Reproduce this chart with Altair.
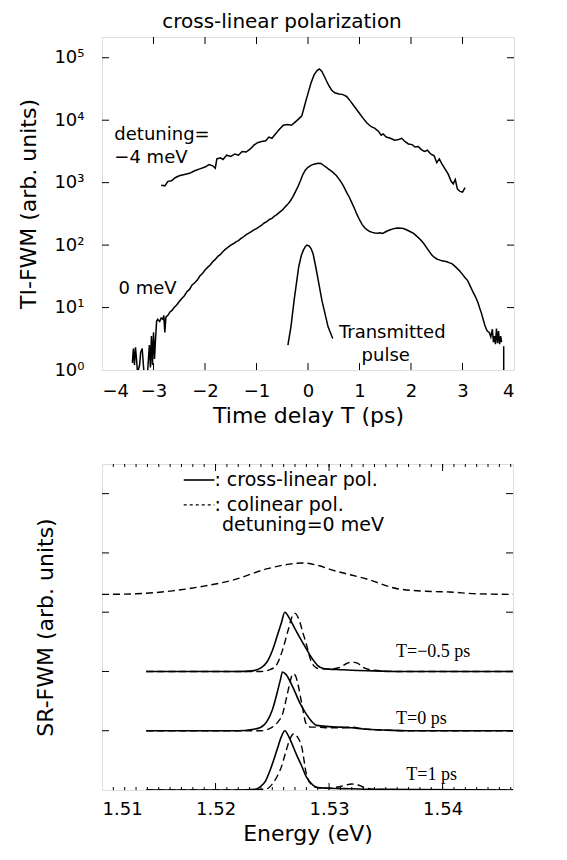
import altair as alt
import pandas as pd

# ---------------- Top panel data (TI-FWM vs time delay) ----------------
det4_T = [-2.85, -2.78, -2.72, -2.65, -2.58, -2.50, -2.40, -2.30, -2.20, -2.10, -2.00, -1.92, -1.85, -1.80,
          -1.77, -1.70, -1.65, -1.58, -1.50, -1.42, -1.35, -1.28, -1.20, -1.12, -1.05, -0.98, -0.90, -0.82,
          -0.76, -0.70, -0.62, -0.55, -0.48, -0.40, -0.32, -0.25, -0.18, -0.12, -0.06, 0.00, 0.06, 0.12,
          0.18, 0.22, 0.27, 0.33, 0.40, 0.46, 0.52, 0.60, 0.68, 0.75, 0.82, 0.90, 0.98, 1.06, 1.14, 1.22,
          1.30, 1.37, 1.42, 1.46, 1.52, 1.60, 1.68, 1.76, 1.82, 1.88, 1.95, 2.02, 2.08, 2.14, 2.20, 2.26,
          2.32, 2.38, 2.45, 2.50, 2.55, 2.60, 2.66, 2.72, 2.78, 2.82, 2.86, 2.90, 2.95, 3.00, 3.05]
det4_v = [910, 890, 1050, 1070, 1200, 1290, 1350, 1410, 1550, 1660, 1780, 1950, 1860, 1700,
          2400, 2500, 2350, 2750, 2630, 2880, 2750, 3160, 3090, 3470, 3980, 4370, 4570, 4680,
          5370, 5130, 6170, 7240, 8320, 8510, 8320, 9330, 10500, 11750, 17800, 26900, 39800, 53700,
          63100, 66000, 60300, 47900, 36300, 30200, 27500, 26300, 25700, 24000, 20400, 16600, 13500, 11000, 9120, 7940,
          7410, 6610, 5750, 6030, 5370, 5130, 4790, 4900, 5130, 4570, 4170, 4070, 3720, 3800, 3390, 3160,
          3310, 2880, 2690, 2090, 2400, 2000, 1660, 1380, 1050, 955, 1120, 794, 724, 708, 832]

det0_T = [-3.41, -3.39, -3.37, -3.35, -3.33, -3.31, -3.27, -3.25, -3.22, -3.18, -3.12, -3.08, -3.06, -3.04,
          -3.02, -3.00, -2.98, -2.96, -2.94, -2.92, -2.88, -2.85, -2.82, -2.80, -2.78, -2.76, -2.72, -2.68,
          -2.64, -2.60, -2.55, -2.50, -2.45, -2.40, -2.35, -2.30, -2.25, -2.20, -2.15, -2.10, -2.05, -2.00,
          -1.95, -1.90, -1.85, -1.80, -1.75, -1.70, -1.65, -1.60, -1.55, -1.50, -1.45, -1.40, -1.35, -1.30,
          -1.25, -1.20, -1.15, -1.10, -1.05, -1.00, -0.95, -0.90, -0.85, -0.80, -0.75, -0.70, -0.65, -0.60,
          -0.55, -0.50, -0.45, -0.40, -0.35, -0.30, -0.25, -0.20, -0.15, -0.10, -0.05, 0.00, 0.05, 0.10,
          0.15, 0.20, 0.25, 0.30, 0.35, 0.40, 0.45, 0.50, 0.55, 0.60, 0.65, 0.70, 0.75, 0.80, 0.85, 0.90,
          0.95, 1.00, 1.05, 1.10, 1.15, 1.20, 1.25, 1.30, 1.35, 1.40, 1.45, 1.50, 1.55, 1.60, 1.65, 1.70,
          1.75, 1.80, 1.85, 1.90, 1.95, 2.00, 2.05, 2.10, 2.15, 2.20, 2.25, 2.30, 2.35, 2.40, 2.45, 2.50,
          2.55, 2.60, 2.65, 2.70, 2.75, 2.80, 2.85, 2.90, 2.95, 3.00, 3.05, 3.10, 3.15, 3.20, 3.25, 3.30,
          3.33, 3.37, 3.40, 3.44, 3.48, 3.52, 3.55, 3.58, 3.60, 3.62, 3.64, 3.66, 3.68, 3.70, 3.72, 3.74, 3.76]
det0_v = [1.3, 2.2, 1.2, 2.3, 1.5, 0.9, 1.2, 1.9, 2.2, 0.8, 0.8, 2.5, 1.1, 3.5,
          1.2, 4.0, 1.5, 3.2, 6.0, 6.5, 6.0, 6.8, 6.5, 7.5, 4.0, 7.0, 7.5, 8.5,
          9.0, 10.0, 11.0, 12.5, 14.0, 15.5, 18.0, 19.5, 23.0, 25.0, 27.5, 32.0, 35.0, 40.0,
          44.0, 48.0, 54.0, 59.0, 66.0, 71.0, 79.0, 86.0, 93.0, 100, 105, 113, 118, 128,
          136, 147, 155, 165, 175, 184, 196, 208, 226, 238, 257, 268, 292, 310,
          338, 362, 402, 445, 500, 580, 700, 850, 1050, 1350, 1600, 1760, 1880, 1960,
          2000, 2040, 2030, 1900, 1780, 1650, 1550, 1420, 1300, 1150, 1000, 850, 700, 590, 480, 390,
          310, 255, 215, 190, 175, 165, 160, 156, 155, 157, 154, 162, 170, 176, 182, 186,
          188, 187, 184, 178, 170, 162, 154, 142, 130, 118, 105, 92, 80, 70, 64, 60,
          58, 56, 55, 54, 52, 50, 46, 42, 38, 34, 30, 27, 22, 18, 15, 12,
          10, 8.0, 6.5, 5.0, 4.2, 4.0, 3.4, 4.5, 2.8, 3.5, 2.6, 4.6, 2.7, 4.2, 2.6, 3.5, 2.8]

pulse_T = [-0.39, -0.33, -0.27, -0.22, -0.18, -0.13, -0.09, -0.05, -0.02, 0.02, 0.06, 0.10, 0.15, 0.20,
           0.27, 0.33, 0.39, 0.48]
pulse_v = [2.5, 5.0, 13, 26, 45, 68, 83, 95, 100, 97, 88, 72, 45, 27, 13, 8.0, 4.9, 3.2]

edge_T = [3.80, 3.80]
edge_v = [0.9, 2.4]

top_x_ticks = [-4, -3, -2, -1, 0, 1, 2, 3, 4]
top_y_ticks = [1, 10, 100, 1000, 10000, 100000]

# ---------------- Bottom panel data (SR-FWM vs energy) ----------------
m05_sol_E = [1.5139, 1.518, 1.522, 1.5232, 1.524, 1.5245, 1.525, 1.5254, 1.5258, 1.5261, 1.5265, 1.527,
             1.5274, 1.528, 1.5285, 1.529, 1.5295, 1.530, 1.531, 1.532, 1.534, 1.536, 1.5462]
m05_sol_u = [2.0, 2.0, 2.0, 2.01, 2.06, 2.15, 2.35, 2.58, 2.82, 3.0, 2.9, 2.72,
             2.58, 2.38, 2.22, 2.1, 2.05, 2.04, 2.03, 2.02, 2.01, 2.0, 2.0]
m05_das_E = [1.5139, 1.522, 1.524, 1.5248, 1.5254, 1.5259, 1.5264, 1.5268, 1.527, 1.5273, 1.5277, 1.528,
             1.5284, 1.5288, 1.529, 1.530, 1.531, 1.5315, 1.532, 1.5325, 1.533, 1.534, 1.536, 1.5462]
m05_das_u = [2.0, 2.0, 2.0, 2.03, 2.12, 2.36, 2.7, 2.95, 2.98, 2.9, 2.65, 2.46,
             2.18, 2.07, 2.05, 2.04, 2.07, 2.13, 2.16, 2.14, 2.07, 2.02, 2.0, 2.0]

t0_sol_E = [1.5139, 1.522, 1.5232, 1.524, 1.5245, 1.525, 1.5254, 1.5257, 1.5259, 1.5262, 1.5268, 1.5274,
            1.528, 1.5285, 1.5289, 1.530, 1.531, 1.532, 1.533, 1.535, 1.537, 1.5462]
t0_sol_u = [1.0, 1.0, 1.02, 1.06, 1.15, 1.35, 1.62, 1.85, 1.99, 1.95, 1.74, 1.48,
            1.28, 1.15, 1.09, 1.07, 1.06, 1.05, 1.03, 1.01, 1.0, 1.0]
t0_das_E = [1.5139, 1.522, 1.524, 1.525, 1.5255, 1.5259, 1.5263, 1.5266, 1.5268, 1.527, 1.5273, 1.5276,
            1.528, 1.5284, 1.529, 1.530, 1.531, 1.532, 1.533, 1.535, 1.537, 1.5462]
t0_das_u = [1.0, 1.0, 1.0, 1.06, 1.15, 1.28, 1.6, 1.85, 1.96, 1.94, 1.75, 1.45,
            1.11, 1.06, 1.06, 1.05, 1.05, 1.06, 1.03, 1.01, 1.0, 1.0]

t1_sol_E = [1.5139, 1.522, 1.5235, 1.5239, 1.5244, 1.5248, 1.5254, 1.5258, 1.5261, 1.5265, 1.5271, 1.5276,
            1.528, 1.5286, 1.529, 1.530, 1.532, 1.534, 1.5462]
t1_sol_u = [0.0, 0.0, 0.01, 0.05, 0.15, 0.33, 0.67, 0.9, 1.0, 0.88, 0.61, 0.4,
            0.22, 0.08, 0.04, 0.03, 0.02, 0.01, 0.0]
t1_das_E = [1.5139, 1.523, 1.5245, 1.525, 1.5254, 1.5258, 1.5262, 1.5266, 1.5269, 1.5272, 1.5276, 1.528,
            1.5284, 1.529, 1.530, 1.531, 1.532, 1.5325, 1.533, 1.534, 1.5462]
t1_das_u = [0.0, 0.0, 0.02, 0.1, 0.22, 0.39, 0.65, 0.88, 0.95, 0.9, 0.72, 0.27,
            0.1, 0.04, 0.03, 0.06, 0.1, 0.09, 0.05, 0.01, 0.0]

broad_E = [1.510, 1.513, 1.5162, 1.519, 1.5215, 1.5245, 1.5265, 1.5277, 1.529, 1.5303, 1.5333, 1.5362,
           1.539, 1.5406, 1.543, 1.5462]
broad_u = [3.30, 3.31, 3.36, 3.44, 3.54, 3.73, 3.81, 3.83, 3.79, 3.71, 3.56, 3.39,
           3.35, 3.34, 3.31, 3.30]

bot_x_labels = [1.51, 1.52, 1.53, 1.54]
bot_x_major = [1.52, 1.53, 1.54]
bot_x_minor = [round(1.511 + 0.001 * i, 3) for i in range(36)]
bot_y_ticks = [1, 2, 3, 4, 5]

FONT = "DejaVu Sans"
W_TOP, H_TOP = 412, 333
W_BOT, H_BOT = 411, 326
AX_TITLE = 22
AX_LABEL = 18

# ---------------- Top panel ----------------
top_df = pd.concat([
    pd.DataFrame({"T": det4_T, "v": det4_v, "s": "det4"}),
    pd.DataFrame({"T": det0_T, "v": det0_v, "s": "det0"}),
    pd.DataFrame({"T": pulse_T, "v": pulse_v, "s": "pulse"}),
    pd.DataFrame({"T": edge_T, "v": edge_v, "s": "edge"}),
])

sup = "'\u2070\u00b9\u00b2\u00b3\u2074\u2075'"
label_expr = f"'10' + substring({sup}, round(log(datum.value)/LN10), round(log(datum.value)/LN10)+1)"

xT = alt.X("T:Q", scale=alt.Scale(domain=[-4, 4], nice=False, zero=False),
           axis=alt.Axis(values=top_x_ticks, title="Time delay T (ps)", ticks=False, domain=False,
                         grid=False, labelFontSize=AX_LABEL, titleFontSize=AX_TITLE, labelPadding=12,
                         titlePadding=5, labelFont=FONT, titleFont=FONT, titleFontWeight="normal",
                         labelColor="black", titleColor="black"))
yT = alt.Y("v:Q", scale=alt.Scale(type="log", domain=[1, 2.15e5], nice=False),
           axis=alt.Axis(values=top_y_ticks, labelExpr=label_expr, title="TI-FWM (arb. units)",
                         ticks=False, domain=False, grid=False, labelFontSize=AX_LABEL, titleFontSize=AX_TITLE,
                         labelPadding=18, titleX=-74, titleBaseline="middle", labelFont=FONT, titleFont=FONT,
                         titleFontWeight="normal", labelColor="black", titleColor="black"))

top_lines = alt.Chart(top_df).mark_line(color="black", strokeWidth=1.5, clip=True).encode(
    x=xT, y=yT, detail="s:N", order="T:Q")

tx_df = pd.DataFrame({"T": top_x_ticks[1:-1]})
ty_df = pd.DataFrame({"v": top_y_ticks[1:]})
tick_b = alt.Chart(tx_df).mark_rule(color="black", strokeWidth=1).encode(
    x=xT, y=alt.value(H_TOP), y2=alt.value(H_TOP - 7))
tick_t = alt.Chart(tx_df).mark_rule(color="black", strokeWidth=1).encode(
    x=xT, y=alt.value(0), y2=alt.value(7))
tick_l = alt.Chart(ty_df).mark_rule(color="black", strokeWidth=1).encode(
    y=yT, x=alt.value(0), x2=alt.value(7))
tick_r = alt.Chart(ty_df).mark_rule(color="black", strokeWidth=1).encode(
    y=yT, x=alt.value(W_TOP), x2=alt.value(W_TOP - 7))

top_txt_df = pd.DataFrame({
    "T": [-3.76, -3.76, -3.68, 0.60, 1.51],
    "v": [5900, 2500, 20, 3.9, 1.67],
    "label": ["detuning=", "\u22124 meV", "0 meV", "Transmitted", "pulse"],
    "a": ["left", "left", "left", "left", "center"],
})
top_txt_l = alt.Chart(top_txt_df[top_txt_df.a == "left"]).mark_text(
    align="left", baseline="middle", fontSize=18, font=FONT, color="black").encode(x=xT, y=yT, text="label:N")
top_txt_c = alt.Chart(top_txt_df[top_txt_df.a == "center"]).mark_text(
    align="center", baseline="middle", fontSize=18, font=FONT, color="black").encode(x=xT, y=yT, text="label:N")

top = alt.layer(top_lines, tick_b, tick_t, tick_l, tick_r, top_txt_l, top_txt_c).properties(
    width=W_TOP, height=H_TOP,
    title=alt.TitleParams("cross-linear polarization", fontSize=20, font=FONT, fontWeight="normal",
                          color="black", offset=5, dx=-26, anchor="middle"))

# ---------------- Bottom panel ----------------
sol_df = pd.concat([
    pd.DataFrame({"E": m05_sol_E, "u": m05_sol_u, "s": "m05"}),
    pd.DataFrame({"E": t0_sol_E, "u": t0_sol_u, "s": "t0"}),
    pd.DataFrame({"E": t1_sol_E, "u": t1_sol_u, "s": "t1"}),
])
das_df = pd.concat([
    pd.DataFrame({"E": m05_das_E, "u": m05_das_u, "s": "m05"}),
    pd.DataFrame({"E": t0_das_E, "u": t0_das_u, "s": "t0"}),
    pd.DataFrame({"E": t1_das_E, "u": t1_das_u, "s": "t1"}),
    pd.DataFrame({"E": broad_E, "u": broad_u, "s": "broad"}),
])

xE = alt.X("E:Q", scale=alt.Scale(domain=[1.51, 1.5462], nice=False, zero=False),
           axis=alt.Axis(values=bot_x_labels, format=".2f", title="Energy (eV)", ticks=False,
                         domain=False, grid=False, labelFontSize=AX_LABEL, titleFontSize=AX_TITLE,
                         labelPadding=10, titlePadding=5, labelFont=FONT, titleFont=FONT,
                         titleFontWeight="normal", labelColor="black", titleColor="black"))
yE = alt.Y("u:Q", scale=alt.Scale(domain=[0, 5.5], nice=False, zero=False),
           axis=alt.Axis(values=bot_y_ticks, labels=False, title="SR-FWM (arb. units)", ticks=False,
                         domain=False, grid=False, titleFontSize=AX_TITLE, titleX=-57, titleBaseline="middle",
                         titleFont=FONT, titleFontWeight="normal", titleColor="black"))

sol = alt.Chart(sol_df).mark_line(color="black", strokeWidth=1.6, interpolate="monotone", clip=True).encode(
    x=xE, y=yE, detail="s:N", order="E:Q")
das = alt.Chart(das_df).mark_line(color="black", strokeWidth=1.4, strokeDash=[7, 4],
                                  interpolate="monotone", clip=True).encode(
    x=xE, y=yE, detail="s:N", order="E:Q")

bmaj = pd.DataFrame({"E": bot_x_major})
bmin = pd.DataFrame({"E": bot_x_minor})
by = pd.DataFrame({"u": bot_y_ticks})
btk = [
    alt.Chart(bmaj).mark_rule(color="black", strokeWidth=1).encode(x=xE, y=alt.value(H_BOT), y2=alt.value(H_BOT - 7)),
    alt.Chart(bmaj).mark_rule(color="black", strokeWidth=1).encode(x=xE, y=alt.value(0), y2=alt.value(7)),
    alt.Chart(bmin).mark_rule(color="black", strokeWidth=1).encode(x=xE, y=alt.value(H_BOT), y2=alt.value(H_BOT - 3)),
    alt.Chart(bmin).mark_rule(color="black", strokeWidth=1).encode(x=xE, y=alt.value(0), y2=alt.value(3)),
    alt.Chart(by).mark_rule(color="black", strokeWidth=1).encode(y=yE, x=alt.value(0), x2=alt.value(7)),
    alt.Chart(by).mark_rule(color="black", strokeWidth=1).encode(y=yE, x=alt.value(W_BOT), x2=alt.value(W_BOT - 7)),
]

leg_sol = alt.Chart(pd.DataFrame({"E": [1.5172], "E2": [1.5199], "u": [5.23]})).mark_rule(
    color="black", strokeWidth=1.6).encode(x=xE, x2="E2:Q", y=yE)
leg_das = alt.Chart(pd.DataFrame({"E": [1.5172], "E2": [1.5199], "u": [4.81]})).mark_rule(
    color="black", strokeWidth=1.2, strokeDash=[3, 3]).encode(x=xE, x2="E2:Q", y=yE)

leg_txt = alt.Chart(pd.DataFrame({
    "E": [1.5199, 1.5199], "u": [5.23, 4.81],
    "label": [": cross-linear pol.", ": colinear pol."]})).mark_text(
    align="left", baseline="middle", fontSize=19, font=FONT, color="black").encode(x=xE, y=yE, text="label:N")
det_txt = alt.Chart(pd.DataFrame({"E": [1.5277], "u": [4.47], "label": ["detuning=0 meV"]})).mark_text(
    align="center", baseline="middle", fontSize=19, font=FONT, color="black").encode(x=xE, y=yE, text="label:N")
t_txt = alt.Chart(pd.DataFrame({
    "E": [1.5359, 1.5359, 1.5368], "u": [2.33, 1.2, 0.25],
    "label": ["T=\u22120.5  ps", "T=0  ps", "T=1  ps"]})).mark_text(
    align="left", baseline="middle", fontSize=18, font="Liberation Serif", color="black").encode(
    x=xE, y=yE, text="label:N")

bot = alt.layer(sol, das, *btk, leg_sol, leg_das, leg_txt, det_txt, t_txt).properties(
    width=W_BOT, height=H_BOT)

chart = alt.vconcat(top, bot, spacing=36).properties(
    padding={"left": 8, "top": 3, "right": 5, "bottom": 5}
).configure_view(stroke="black", strokeWidth=1.3).configure(background="white")

chart.save("out.html", embed_options={"renderer": "svg", "actions": False})
